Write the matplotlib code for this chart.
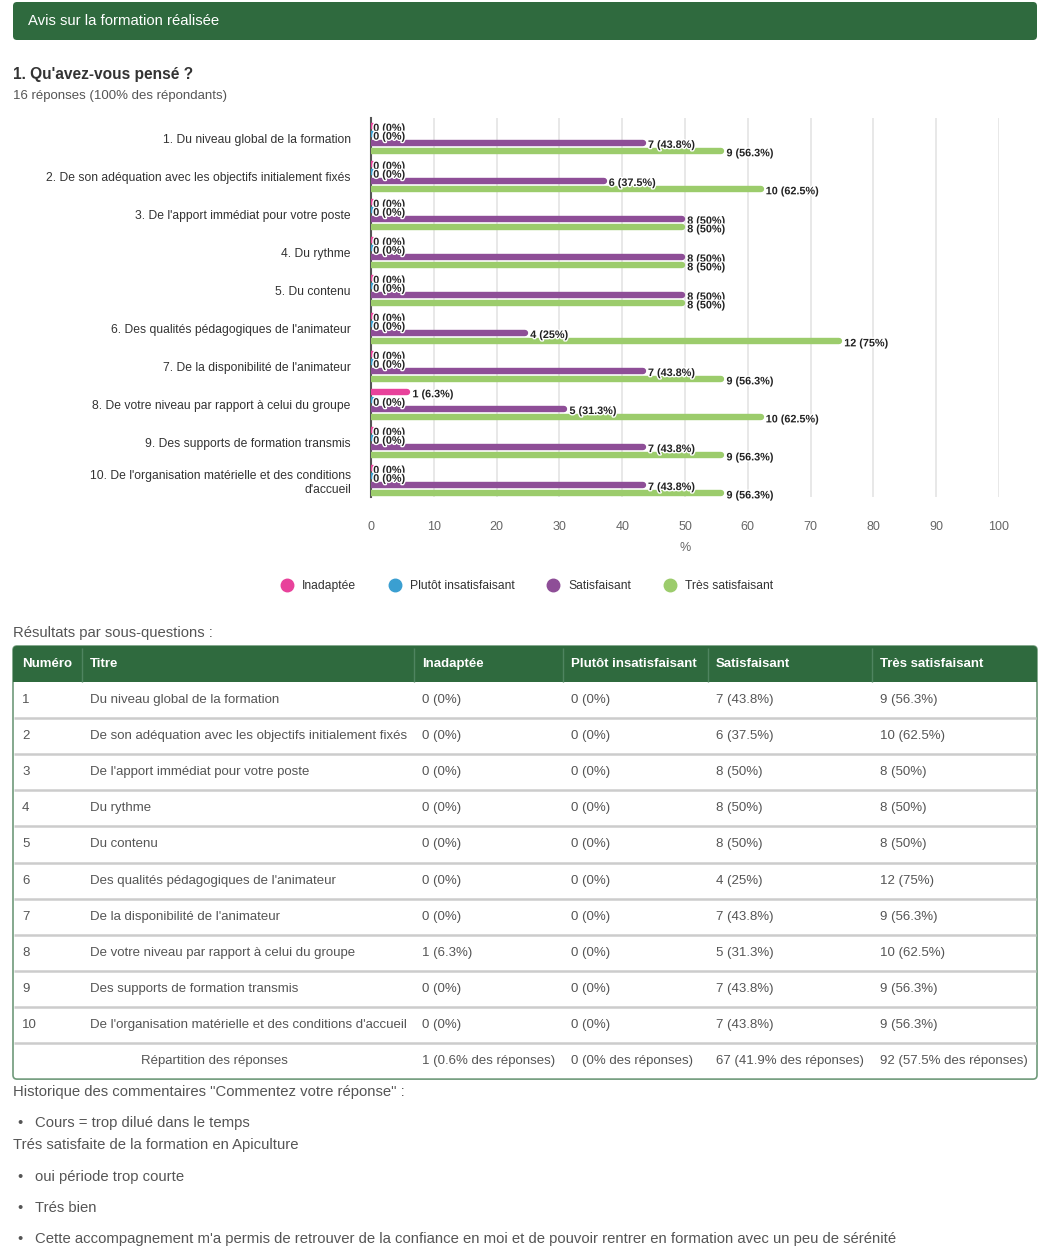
import math

import matplotlib.patheffects as pe
import matplotlib.pyplot as plt
import numpy as np
from matplotlib.lines import Line2D
from matplotlib.patches import FancyBboxPatch, Rectangle

plt.rcParams["font.family"] = ["Liberation Sans", "DejaVu Sans"]

questions = [
    "Du niveau global de la formation",
    "De son adéquation avec les objectifs initialement fixés",
    "De l'apport immédiat pour votre poste",
    "Du rythme",
    "Du contenu",
    "Des qualités pédagogiques de l'animateur",
    "De la disponibilité de l'animateur",
    "De votre niveau par rapport à celui du groupe",
    "Des supports de formation transmis",
    "De l'organisation matérielle et des conditions d'accueil",
]
answers = ["Inadaptée", "Plutôt insatisfaisant", "Satisfaisant", "Très satisfaisant"]
inadaptee = [0, 0, 0, 0, 0, 0, 0, 1, 0, 0]
plutot = [0, 0, 0, 0, 0, 0, 0, 0, 0, 0]
satisfaisant = [7, 6, 8, 8, 8, 4, 7, 5, 7, 7]
tres_satisfaisant = [9, 10, 8, 8, 8, 12, 9, 10, 9, 9]
n_resp = 16
comments = [
    ("•", "Cours = trop dilué dans le temps"),
    ("", "Trés satisfaite de la formation en Apiculture"),
    ("•", "oui période trop courte"),
    ("•", "Trés bien"),
    ("•", "Cette accompagnement m'a permis de retrouver de la confiance en moi et de pouvoir rentrer en formation avec un peu de sérénité"),
]

colors = ["#e8429b", "#3a9fd1", "#8e4e97", "#9ccc6c"]
green = "#2f6a3e"
W, H = 1049, 1250


def fmt_pct(p):
    p = math.floor(p * 10 + 0.5) / 10
    return f"{p:g}"


series = [inadaptee, plutot, satisfaisant, tres_satisfaisant]

fig = plt.figure(figsize=(W / 100, H / 100), dpi=100)

# page layer in pixel coordinates
page = fig.add_axes([0, 0, 1, 1])
page.set_xlim(0, W)
page.set_ylim(H, 0)
page.axis("off")

page.add_patch(FancyBboxPatch((13, 2), 1024, 38, boxstyle="round,pad=0,rounding_size=4",
                              fc=green, ec="none"))
page.text(28, 21, "Avis sur la formation réalisée", color="white", fontsize=10.7, va="center")
page.text(13, 75, "1. Qu'avez-vous pensé ?", color="#333333", fontsize=11.2, fontweight="bold", va="center")
page.text(13, 96, f"{n_resp} réponses (100% des répondants)", color="#555555", fontsize=9.5, va="center")

# bar chart
ax = fig.add_axes([371 / W, 1 - 497 / H, (999 - 371) / W, (497 - 118) / H])
ax.patch.set_alpha(0)
centers = np.arange(len(questions))
offsets = [-0.33, -0.11, 0.11, 0.33]
for vals, off, c in zip(series, offsets, colors):
    pct = np.array(vals) / n_resp * 100
    ys = centers + off
    # round caps stick out by half the line width, pull the end back a bit
    ax.hlines(ys, 0, np.maximum(pct - 0.45, 0.25), colors=c, lw=4.6, capstyle="round", zorder=3)
    for v, p, y in zip(vals, pct, ys):
        ax.annotate(f"{v} ({fmt_pct(p)}%)", (p, y), xytext=(1.6, -1.6), textcoords="offset points",
                    fontsize=7.8, fontweight="bold", color="#222222", va="center",
                    annotation_clip=False, zorder=4,
                    path_effects=[pe.withStroke(linewidth=2, foreground="white")])

ylabels = [f"{i + 1}. {q}" for i, q in enumerate(questions)]
ylabels[9] = ylabels[9].replace(" d'accueil", "\nd'accueil")
ax.set_yticks(centers, ylabels, fontsize=8.7, color="#333333", multialignment="right")
ax.set_ylim(9.43, -0.54)
ax.set_xlim(0, 100)
ax.set_xticks(np.arange(0, 101, 10))
ax.tick_params(axis="y", length=0, pad=14.5)
ax.tick_params(axis="x", length=0, pad=17.5, labelsize=9, labelcolor="#666666")
ax.set_xlabel("%", color="#666666", fontsize=9, labelpad=6)
ax.grid(axis="x", color="#e6e6e6", lw=1.3)
ax.set_axisbelow(True)
for s in ["top", "right", "bottom"]:
    ax.spines[s].set_visible(False)
ax.spines["left"].set_color("#555555")
ax.spines["left"].set_linewidth(1.5)

handles = [Line2D([], [], ls="none", marker="o", ms=9, mfc=c, mec=c) for c in colors]
fig.legend(handles, answers, loc="center", bbox_to_anchor=(527 / W, 1 - 586 / H), ncol=4,
           frameon=False, fontsize=8.7, handlelength=1.0, handletextpad=0.75, columnspacing=2.7,
           labelcolor="#333333")

# table
page.text(13, 633, "Résultats par sous-questions :", color="#555555", fontsize=10.7, va="center")
top, head_h, row_h = 646, 36, 36.1
n_rows = len(questions) + 1
bottom = top + head_h + row_h * n_rows
page.add_patch(FancyBboxPatch((13, top), 1024, bottom - top, boxstyle="round,pad=0,rounding_size=4",
                              fc="white", ec="#6f9a7a", lw=1.2, zorder=1))
page.add_patch(FancyBboxPatch((13, top), 1024, head_h, boxstyle="round,pad=0,rounding_size=4",
                              fc=green, ec="none", zorder=2))
page.add_patch(Rectangle((13, top + head_h - 6), 1024, 6, fc=green, ec="none", zorder=2))
col_x = [22, 90, 422, 571, 716, 880]
sep_x = [82, 414, 563, 708, 872]
page.vlines(sep_x, top + 2, top + head_h, colors="#4f8460", lw=1, zorder=3)
headers = ["Numéro", "Titre"] + answers
for x, h in zip(col_x, headers):
    page.text(x, top + head_h / 2, h, color="white", fontsize=9.5, fontweight="bold", va="center", zorder=4)

page.hlines([top + head_h + row_h * k for k in range(1, n_rows)], 14, 1036, colors="#cccccc", lw=1.8, zorder=3)
for i, q in enumerate(questions):
    yc = top + head_h + row_h * (i + 0.5)
    cells = [str(i + 1), q] + [f"{s[i]} ({fmt_pct(s[i] / n_resp * 100)}%)" for s in series]
    for x, t in zip(col_x, cells):
        page.text(x, yc, t, color="#555555", fontsize=9.5, va="center", zorder=4)

total = n_resp * len(questions)
yc = top + head_h + row_h * (n_rows - 0.5)
page.text(214, yc, "Répartition des réponses", color="#555555", fontsize=9.5, va="center", ha="center", zorder=4)
for x, s in zip(col_x[2:], series):
    page.text(x, yc, f"{sum(s)} ({fmt_pct(sum(s) / total * 100)}% des réponses)", color="#555555",
              fontsize=9.5, va="center", zorder=4)

# comments
page.text(13, 1092, 'Historique des commentaires "Commentez votre réponse" :', color="#555555",
          fontsize=10.7, va="center")
comment_y = [1123, 1145, 1177, 1208, 1239]
for (b, t), y in zip(comments, comment_y):
    if b:
        page.text(17, y, b, color="#555555", fontsize=10.7, va="center")
        page.text(35, y, t, color="#555555", fontsize=10.7, va="center")
    else:
        page.text(13, y, t, color="#555555", fontsize=10.7, va="center")

fig.savefig("out.png", dpi=100)
